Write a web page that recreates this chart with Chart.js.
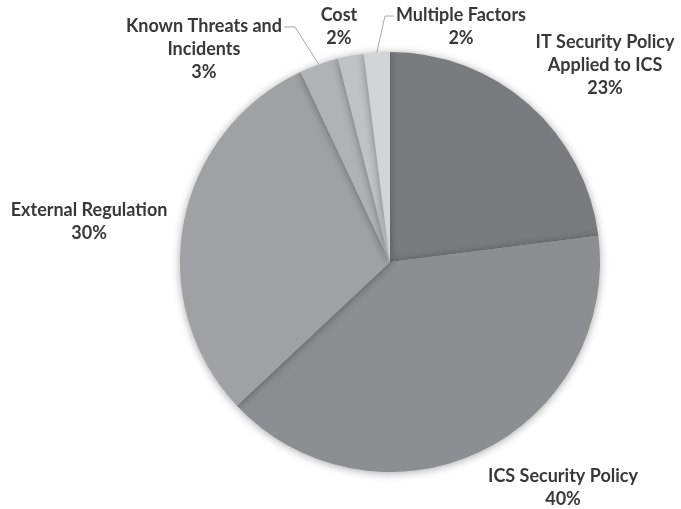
<!DOCTYPE html>
<html>
<head>
<meta charset="utf-8">
<style>
  html, body { margin: 0; padding: 0; background: #ffffff; }
  #wrap { width: 681px; height: 509px; }
</style>
<script src="https://cdn.jsdelivr.net/npm/chart.js@4/dist/chart.umd.min.js"></script>
</head>
<body>
<div id="wrap"><canvas id="pie" width="681" height="509"></canvas></div>
<script>
// Drivers of ICS security programs (share of respondents, %)
const categories = [
  ['IT Security Policy', 'Applied to ICS'],
  ['ICS Security Policy'],
  ['External Regulation'],
  ['Known Threats and', 'Incidents'],
  ['Cost'],
  ['Multiple Factors']
];
const shares = [23, 40, 30, 3, 2, 2];
const sliceColors = ['#7a7b7f', '#8d8e92', '#a0a1a5', '#b1b2b6', '#c1c2c6', '#d3d4d7'];

// Label placement (first text line), relative to the pie centre in units of its radius
const labelAnchors = [
  { dx: 1.024, dy: -1.048 },
  { dx: 0.824, dy: 1.019 },
  { dx: -1.433, dy: -0.248 },
  { dx: -0.886, dy: -1.124 },
  { dx: -0.243, dy: -1.176 },
  { dx: 0.338, dy: -1.176 }
];
// Slices whose label is joined to the rim by a leader line
const leaders = {
  3: { side: 'right', gap: 11 },
  5: { side: 'left', gap: 9 }
};

const LINE_H = 23;
const FONT = 'bold 18px Lato, "Open Sans", sans-serif';

const softEdge = {
  id: 'softEdge',
  beforeDatasetsDraw(chart) {
    const ctx = chart.ctx;
    ctx.save();
    ctx.shadowColor = 'rgba(0,0,0,0.35)';
    ctx.shadowBlur = 8;
    ctx.shadowOffsetX = 0;
    ctx.shadowOffsetY = 1;
  },
  afterDatasetsDraw(chart) {
    chart.ctx.restore();
  }
};

const outerLabels = {
  id: 'outerLabels',
  afterDraw(chart) {
    const ctx = chart.ctx;
    const arcs = chart.getDatasetMeta(0).data;
    if (!arcs.length) return;
    const cx = arcs[0].x, cy = arcs[0].y, r = arcs[0].outerRadius;
    ctx.save();
    ctx.font = FONT;
    ctx.fillStyle = '#383838';
    ctx.textAlign = 'center';
    ctx.textBaseline = 'middle';
    arcs.forEach((arc, i) => {
      const lines = categories[i].concat([shares[i] + '%']);
      const lx = cx + labelAnchors[i].dx * r;
      const ly = cy + labelAnchors[i].dy * r;
      lines.forEach((t, k) => ctx.fillText(t, lx, ly + k * LINE_H));

      const ld = leaders[i];
      if (ld) {
        const mid = (arc.startAngle + arc.endAngle) / 2;
        const ex = cx + Math.cos(mid) * r;
        const ey = cy + Math.sin(mid) * r;
        const w = ctx.measureText(lines[0]).width;
        const sx = ld.side === 'right' ? lx + w / 2 + 2 : lx - w / 2 - 2;
        const kx = ld.side === 'right' ? sx + ld.gap : sx - ld.gap;
        ctx.save();
        ctx.strokeStyle = '#a9a9a9';
        ctx.lineWidth = 1;
        ctx.beginPath();
        ctx.moveTo(sx, ly + 1);
        ctx.lineTo(kx, ly + 1);
        ctx.lineTo(ex, ey);
        ctx.stroke();
        ctx.restore();
      }
    });
    ctx.restore();
  }
};

new Chart(document.getElementById('pie'), {
  type: 'pie',
  data: {
    labels: categories,
    datasets: [{
      data: shares,
      backgroundColor: sliceColors,
      borderWidth: 0,
      hoverOffset: 0
    }]
  },
  options: {
    responsive: false,
    animation: false,
    layout: { padding: { top: 52, bottom: 37, left: 180, right: 81 } },
    plugins: {
      legend: { display: false },
      tooltip: { enabled: false }
    }
  },
  plugins: [softEdge, outerLabels]
});
</script>
</body>
</html>
